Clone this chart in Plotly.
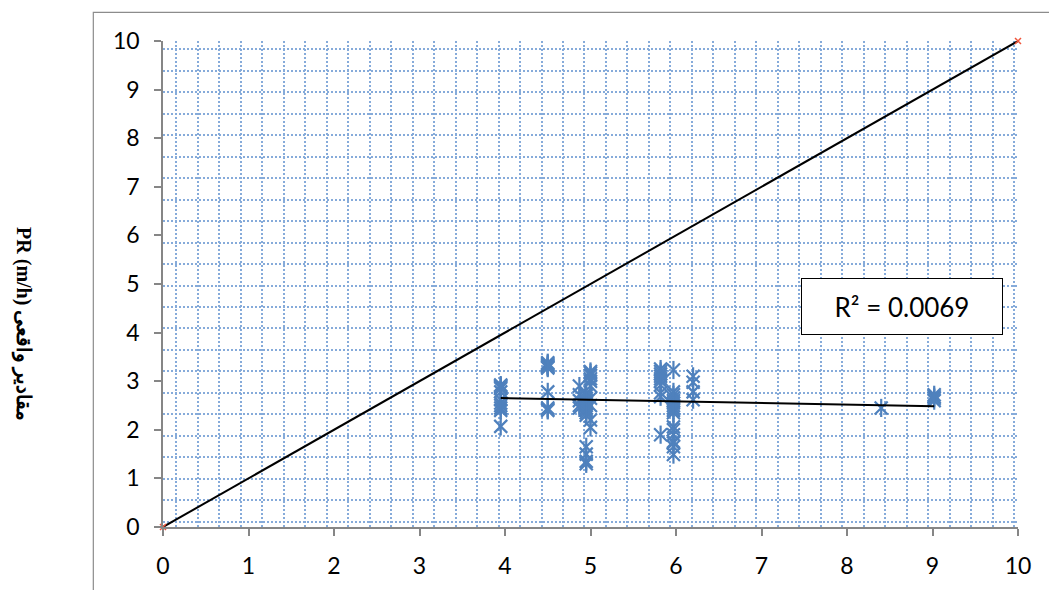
import numpy as np
import plotly.graph_objects as go

# Measured (x) vs. actual penetration rate PR (m/h), grouped by x value
x_levels = [3.95, 4.5, 4.87, 4.95, 5.0, 5.82, 5.97, 6.2, 8.4, 9.02]
pr_at_395 = [2.92, 2.9, 2.88, 2.85, 2.78, 2.62, 2.55, 2.5, 2.45, 2.4, 2.07]
pr_at_450 = [3.38, 3.36, 3.34, 3.32, 3.3, 3.29, 3.27, 2.78, 2.45, 2.42, 2.4]
pr_at_487 = [2.9, 2.72, 2.6, 2.5, 2.45]
pr_at_495 = [2.75, 2.7, 2.65, 2.6, 2.55, 2.5, 2.45, 2.4, 2.35, 2.3, 1.65, 1.5, 1.35, 1.3]
pr_at_500 = [3.2, 3.17, 3.12, 3.05, 3.0, 2.9, 2.65, 2.5, 2.2, 2.05]
pr_at_582 = [3.25, 3.2, 3.15, 3.1, 3.05, 3.0, 2.92, 2.76, 2.68, 1.9]
pr_at_597 = [3.23, 2.78, 2.72, 2.66, 2.6, 2.55, 2.5, 2.45, 2.4, 2.35,
             2.06, 2.0, 1.9, 1.76, 1.73, 1.65, 1.49]
pr_at_620 = [3.1, 2.98, 2.78, 2.62]
pr_at_840 = [2.45]
pr_at_902 = [2.72, 2.68, 2.65, 2.6]
pr_groups = [pr_at_395, pr_at_450, pr_at_487, pr_at_495, pr_at_500,
             pr_at_582, pr_at_597, pr_at_620, pr_at_840, pr_at_902]

# 1:1 reference line endpoints
ref_x = [0, 10]
ref_y = [0, 10]

r2_label = "R² = 0.0069"
y_title = "PR (m/h) مقادیر واقعی"

xs = np.concatenate([[xv] * len(g) for xv, g in zip(x_levels, pr_groups)])
ys = np.concatenate(pr_groups)

slope, intercept = np.polyfit(xs, ys, 1)
trend_x = np.array([xs.min(), xs.max()])
trend_y = slope * trend_x + intercept

BLUE = "#4F81BD"
AXIS = "#868686"
GRID = "#86ABDA"
SANS = "Lato, Carlito, Liberation Sans, sans-serif"
TICK_FONT = dict(family=SANS, size=23, color="#000000")

fig = go.Figure()

# 1:1 line
fig.add_trace(go.Scatter(x=ref_x, y=ref_y, mode="lines",
                         line=dict(color="#000000", width=2), hoverinfo="skip"))
fig.add_trace(go.Scatter(x=ref_x, y=ref_y, mode="markers", cliponaxis=False,
                         marker=dict(symbol="x-thin-open", size=6,
                                     line=dict(color="#C0504D", width=1.5))))

# scatter points drawn as a six-armed star (x plus vertical bar)
for sym in ["x-thin-open", "line-ns-open"]:
    fig.add_trace(go.Scatter(x=xs, y=ys, mode="markers",
                             marker=dict(symbol=sym, size=13, color=BLUE,
                                         line=dict(color=BLUE, width=2.2))))

# linear trendline
fig.add_trace(go.Scatter(x=trend_x, y=trend_y, mode="lines",
                         line=dict(color="#000000", width=2), hoverinfo="skip"))

axis_common = dict(
    range=[0, 10], dtick=1, tick0=0,
    showgrid=False, zeroline=False,
    showline=True, linecolor=AXIS, linewidth=1.5,
    ticks="outside", ticklen=7, tickwidth=1.5, tickcolor=AXIS,
    tickfont=TICK_FONT,
)

grid_minor = dict(showgrid=True, gridcolor=GRID, gridwidth=1.8,
                  griddash="1.8px,2.2px", ticks="")

fig.update_xaxes(**axis_common, ticklabelstandoff=11,
                 minor=dict(tick0=0.155, dtick=0.2513, **grid_minor))
fig.update_yaxes(**axis_common, ticklabelstandoff=10,
                 minor=dict(tick0=0.109, dtick=0.4418, **grid_minor))

fig.update_layout(
    width=1049, height=590,
    margin=dict(l=163, r=31, t=41, b=63),
    paper_bgcolor="#FFFFFF", plot_bgcolor="#FFFFFF",
    showlegend=False,
    shapes=[dict(type="rect", xref="paper", yref="paper",
                 x0=-0.0815, x1=1.2, y0=-0.3, y1=1.059,
                 line=dict(color="#8C8C8C", width=1.2), layer="below")],
    annotations=[
        dict(text=r2_label, xref="paper", yref="paper", x=0.8647, y=0.4538,
             showarrow=False, xanchor="center", yanchor="middle",
             font=dict(family=SANS, size=26, color="#000000"),
             bgcolor="#FFFFFF", bordercolor="#000000", borderwidth=1,
             borderpad=2, width=196, height=51),
        dict(text="<b>" + y_title + "</b>", xref="paper", yref="paper",
             x=-0.164, y=0.418, textangle=90, showarrow=False,
             xanchor="center", yanchor="middle",
             font=dict(family="Liberation Serif, DejaVu Serif, serif", size=20, color="#000000")),
    ],
)

fig.write_html("out.html")
